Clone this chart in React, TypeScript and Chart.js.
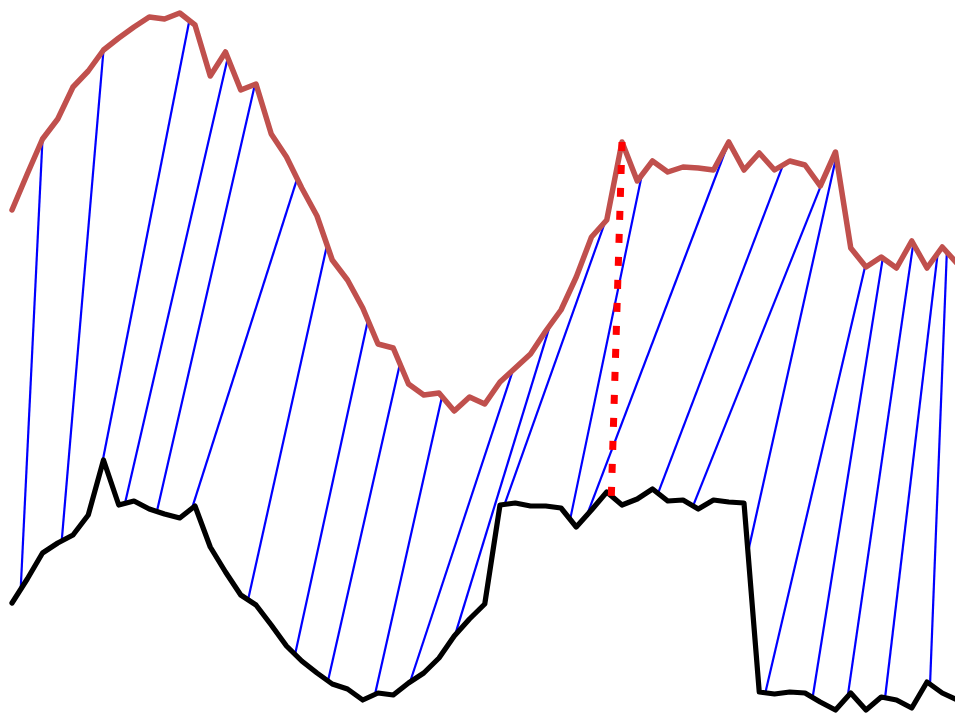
import React, { useEffect, useRef } from "react";
import { Chart, registerables } from "chart.js";

Chart.register(...registerables);

// Upper series (plotted with a vertical offset), one value per time step
const topSeries = [
  4.9, 5.26, 5.61, 5.81, 6.13, 6.29, 6.5, 6.62, 6.73, 6.83, 6.81, 6.87, 6.75, 6.24, 6.48, 6.1,
  6.16, 5.66, 5.43, 5.12, 4.84, 4.4, 4.2, 3.92, 3.56, 3.52, 3.16, 3.05, 3.07, 2.89, 3.03, 2.96,
  3.18, 3.32, 3.46, 3.69, 3.9, 4.23, 4.63, 4.8, 5.58, 5.19, 5.39, 5.28, 5.33, 5.32, 5.3, 5.58,
  5.3, 5.47, 5.3, 5.39, 5.35, 5.14, 5.48, 4.52, 4.33, 4.43, 4.32, 4.59, 4.32, 4.53, 4.36,
];

// Lower series
const bottomSeries = [
  0.97, 1.21, 1.47, 1.57, 1.65, 1.85, 2.4, 1.95, 1.99, 1.91, 1.86, 1.82, 1.94, 1.53, 1.28, 1.05,
  0.95, 0.75, 0.54, 0.39, 0.27, 0.16, 0.11, 0.0, 0.07, 0.05, 0.17, 0.27, 0.42, 0.64, 0.81, 0.96,
  1.95, 1.97, 1.94, 1.94, 1.92, 1.73, 1.9, 2.08, 1.95, 2.01, 2.11, 1.99, 2.0, 1.91, 2.0, 1.98,
  1.97, 0.08, 0.06, 0.08, 0.07, -0.02, -0.1, 0.07, -0.1, 0.03, 0.0, -0.08, 0.18, 0.07, 0.0,
];

// Warping links: position (time) on the upper series -> position on the lower series
const linkTop = [
  2.0, 6.0, 11.63, 14.15, 15.93, 18.7, 20.66, 23.34, 25.44, 28.2, 32.85, 35.28, 39.08, 41.3,
  47.0, 50.56, 53.3, 54.05, 55.95, 57.1, 59.1, 60.7, 61.3,
];
const linkBottom = [
  0.57, 3.26, 5.85, 7.41, 9.5, 11.8, 15.48, 18.56, 20.72, 23.8, 26.1, 29.05, 32.3, 36.6,
  37.7, 42.36, 44.66, 48.26, 49.4, 52.5, 54.8, 57.25, 60.2,
];

// Highlighted link
const highlightTop = 40.0;
const highlightBottom = 39.3;

const X_MIN = -0.787;
const X_MAX = 61.836;
const Y_MIN = -0.13;
const Y_MAX = 7.0;

function valueAt(series: number[], pos: number): number {
  const i = Math.floor(pos);
  if (i >= series.length - 1) return series[series.length - 1];
  if (i < 0) return series[0];
  const f = pos - i;
  return series[i] + (series[i + 1] - series[i]) * f;
}

export default function App() {
  const ref = useRef<HTMLCanvasElement | null>(null);

  useEffect(() => {
    if (!ref.current) return;

    const linkSets = linkTop.map((t, k) => ({
      data: [
        { x: t, y: valueAt(topSeries, t) },
        { x: linkBottom[k], y: valueAt(bottomSeries, linkBottom[k]) },
      ],
      borderColor: "#0000ff",
      borderWidth: 2.2,
      pointRadius: 0,
      order: 3,
      borderCapStyle: "butt" as const,
    }));

    const chart = new Chart(ref.current, {
      type: "line",
      data: {
        datasets: [
          {
            data: [
              { x: highlightTop, y: valueAt(topSeries, highlightTop) },
              { x: highlightBottom, y: valueAt(bottomSeries, highlightBottom) },
            ],
            borderColor: "#ff0000",
            borderWidth: 7,
            borderDash: [9, 14],
            borderCapStyle: "butt",
            pointRadius: 0,
            order: 0,
          },
          {
            data: topSeries.map((v, i) => ({ x: i, y: v })),
            borderColor: "#c0504d",
            borderWidth: 5.5,
            borderJoinStyle: "round",
            borderCapStyle: "round",
            pointRadius: 0,
            order: 1,
          },
          {
            data: bottomSeries.map((v, i) => ({ x: i, y: v })),
            borderColor: "#000000",
            borderWidth: 5.2,
            borderJoinStyle: "round",
            borderCapStyle: "round",
            pointRadius: 0,
            order: 1,
          },
          ...linkSets,
        ],
      },
      options: {
        animation: false,
        responsive: false,
        events: [],
        layout: { padding: 0 },
        elements: { line: { tension: 0, fill: false }, point: { radius: 0 } },
        plugins: { legend: { display: false }, tooltip: { enabled: false } },
        scales: {
          x: { type: "linear", display: false, min: X_MIN, max: X_MAX },
          y: { type: "linear", display: false, min: Y_MIN, max: Y_MAX },
        },
      },
    });
    return () => chart.destroy();
  }, []);

  return (
    <canvas
      ref={ref}
      width={955}
      height={713}
      style={{ position: "absolute", left: 0, top: 0, width: 955, height: 713 }}
    />
  );
}
